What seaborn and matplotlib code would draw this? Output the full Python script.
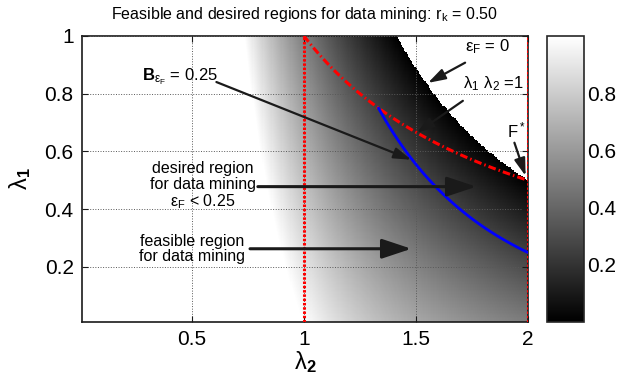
import matplotlib
matplotlib.use("Agg")
import matplotlib.pyplot as plt
import numpy as np
import pandas as pd
import seaborn as sns

# model parameters / axis ranges
r_k = 0.50
eps_target = 0.25
lambda2_lim = (0.01, 2.0)
lambda1_lim = (0.01, 1.0)
n_lambda2 = 400
n_lambda1 = 200
vline_positions = [1.0, 2.0]
x_ticks = [0.5, 1.0, 1.5, 2.0]
x_ticklabels = ["0.5", "1", "1.5", "2"]
y_ticks = [0.2, 0.4, 0.6, 0.8, 1.0]
y_ticklabels = ["0.2", "0.4", "0.6", "0.8", "1"]
cbar_ticks = [0.2, 0.4, 0.6, 0.8]
cbar_ticklabels = ["0.2", "0.4", "0.6", "0.8"]


def eps_f(l1, l2):
    return 1.0 / l2 - r_k * l1 * l2


sns.set_theme(style="ticks")
plt.rcParams["font.family"] = ["Liberation Sans", "DejaVu Sans"]
plt.rcParams["mathtext.fontset"] = "custom"
plt.rcParams["mathtext.rm"] = "Liberation Sans"
plt.rcParams["mathtext.bf"] = "Liberation Sans:bold"
plt.rcParams["mathtext.default"] = "rm"
for key in ["text.color", "axes.labelcolor", "xtick.color", "ytick.color"]:
    plt.rcParams[key] = "black"

l2 = np.linspace(*lambda2_lim, n_lambda2)
l1 = np.linspace(*lambda1_lim, n_lambda1)
L2, L1 = np.meshgrid(l2, l1)
field = eps_f(L1, L2)
field = np.where((field < 0) | (field > 1), np.nan, field)

# boundary curve lambda1*lambda2 = 1 and the eps_F = 0.25 contour below it
red = pd.DataFrame({"l2": np.linspace(1.0, 2.0, 100)})
red["l1"] = 1.0 / red["l2"]
blue = pd.DataFrame({"l2": np.linspace(1.0 / (eps_target + r_k), 2.0, 100)})
blue["l1"] = (1.0 / blue["l2"] - eps_target) / (r_k * blue["l2"])

fig = plt.figure(figsize=(6.21, 3.85), dpi=100)
ax = fig.add_axes([0.132, 0.164, 0.718, 0.743])
cax = fig.add_axes([0.881, 0.164, 0.0596, 0.743])

mesh = ax.pcolormesh(l2, l1, field, cmap="gray", shading="nearest",
                     vmin=np.nanmin(field), vmax=np.nanmax(field), zorder=1)

for xv in vline_positions:
    ax.axvline(xv, color="red", lw=2.2, ls=(0, (0.8, 0.6)), zorder=3)
sns.lineplot(data=red, x="l2", y="l1", ax=ax, color="red", lw=2.2,
             linestyle=(0, (2.5, 1, 0.5, 1)), zorder=3)
sns.lineplot(data=blue, x="l2", y="l1", ax=ax, color="blue", lw=2, zorder=3)

ax.set_xlim(*lambda2_lim)
ax.set_ylim(*lambda1_lim)
ax.set_xticks(x_ticks)
ax.set_xticklabels(x_ticklabels)
ax.set_yticks(y_ticks)
ax.set_yticklabels(y_ticklabels)
ax.tick_params(direction="in", top=True, right=True, length=4, width=0.8,
               labelsize=15, pad=6, color="k")
ax.grid(True, ls=":", color="0.35", lw=0.7)
ax.set_axisbelow(False)
for s in ax.spines.values():
    s.set_linewidth(1.2)
    s.set_color("k")

ax.set_xlabel(r"$λ_\mathbf{2}$", fontsize=17, labelpad=0)
ax.set_ylabel(r"$λ_\mathbf{1}$", fontsize=17, labelpad=8)
ax.set_title(r"Feasible and desired regions for data mining: $r_k$ = 0.50",
             fontsize=11.5, pad=12)

big = dict(arrowstyle="-|>,head_length=0.9,head_width=0.3", lw=2.2,
           color="k", shrinkA=0, shrinkB=0, mutation_scale=20)
small = dict(arrowstyle="-|>,head_length=0.7,head_width=0.22", lw=1.6,
             color="k", shrinkA=0, shrinkB=0, mutation_scale=15)

ax.annotate("", xy=(1.48, 0.571), xytext=(0.61, 0.84), arrowprops=small, zorder=4)
ax.annotate("", xy=(1.554, 0.837), xytext=(1.72, 0.907), arrowprops=small, zorder=4)
ax.annotate("", xy=(1.504, 0.664), xytext=(1.71, 0.775), arrowprops=small, zorder=4)
ax.annotate("", xy=(1.99, 0.515), xytext=(1.94, 0.63), arrowprops=small, zorder=4)
ax.annotate("", xy=(1.77, 0.478), xytext=(0.795, 0.478), arrowprops=big, zorder=4)
ax.annotate("", xy=(1.48, 0.263), xytext=(0.76, 0.263), arrowprops=big, zorder=4)

ax.text(0.28, 0.844, r"$\mathbf{B}_{ε_F}$ = 0.25", fontsize=12, va="baseline")
ax.text(1.72, 0.945, r"$ε_F$ = 0", fontsize=12, va="baseline")
ax.text(1.71, 0.82, r"$λ_1\ λ_2$ =1", fontsize=12, va="baseline")
ax.text(1.905, 0.647, r"$F^*$", fontsize=12, va="baseline")
ax.text(0.55, 0.48, "desired region\nfor data mining\n" + r"$ε_F$ < 0.25",
        fontsize=11.5, ha="center", va="center", linespacing=1.05)
ax.text(0.50, 0.262, "feasible region\nfor data mining",
        fontsize=11.5, ha="center", va="center", linespacing=1.05)

cb = fig.colorbar(mesh, cax=cax, ticks=cbar_ticks)
cb.set_ticklabels(cbar_ticklabels)
cb.outline.set_linewidth(1.2)
cax.tick_params(direction="in", left=True, right=True, length=4, labelsize=15,
                pad=2)

fig.savefig("out.png", dpi=100)
